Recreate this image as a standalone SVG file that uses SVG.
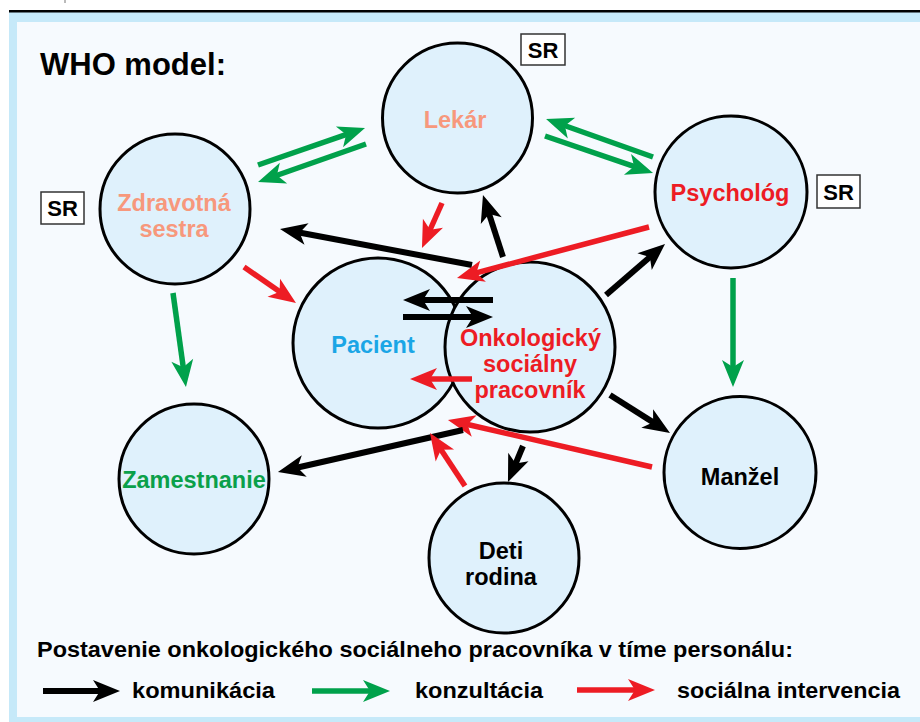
<svg xmlns="http://www.w3.org/2000/svg" width="920" height="722" viewBox="0 0 920 722">
<defs>
<style>
.node{fill:#dff1fc;stroke:#000;stroke-width:3}
.t{font-family:"Liberation Sans",Arial,sans-serif;font-weight:bold;font-size:23.5px;text-anchor:middle}
.sr{fill:#fff;stroke:#333;stroke-width:1.5}
.srt{font-family:"Liberation Sans",Arial,sans-serif;font-weight:bold;font-size:22px;text-anchor:middle;fill:#000}
.k{stroke:#000;stroke-width:6;fill:none;marker-end:url(#mk)}
.g{stroke:#00a14b;stroke-width:5.5;fill:none;marker-end:url(#mg)}
.r{stroke:#ed1c24;stroke-width:5.5;fill:none;marker-end:url(#mr)}
.leg{font-family:"Liberation Sans",Arial,sans-serif;font-weight:bold;font-size:22px;fill:#000}
</style>
<marker id="mk" viewBox="-10 -12 30 24" markerWidth="30" markerHeight="24" refX="0" refY="0" orient="auto" markerUnits="userSpaceOnUse" overflow="visible"><path d="M18,0 L-9,-11 L-2,0 L-9,11 Z" fill="#000"/></marker>
<marker id="mg" viewBox="-10 -12 30 24" markerWidth="30" markerHeight="24" refX="0" refY="0" orient="auto" markerUnits="userSpaceOnUse" overflow="visible"><path d="M18,0 L-9,-11 L-2,0 L-9,11 Z" fill="#00a14b"/></marker>
<marker id="mr" viewBox="-10 -12 30 24" markerWidth="30" markerHeight="24" refX="0" refY="0" orient="auto" markerUnits="userSpaceOnUse" overflow="visible"><path d="M18,0 L-9,-11 L-2,0 L-9,11 Z" fill="#ed1c24"/></marker>
</defs>
<rect x="0" y="0" width="920" height="722" fill="#fff"/>
<line x1="65" y1="0" x2="65" y2="3" stroke="#777" stroke-width="1"/>
<rect x="9" y="12" width="911" height="710" fill="#c6e9f9"/>
<rect x="9" y="10" width="911" height="2.5" fill="#000"/>
<rect x="17" y="22" width="903" height="695" fill="#f6fafe"/>
<text x="40" y="75" font-family="Liberation Sans,Arial,sans-serif" font-weight="bold" font-size="31" fill="#000">WHO model:</text>

<g id="lekar">
<circle class="node" cx="457.5" cy="118" r="75"/>
<text class="t" x="455" y="128" fill="#f7987c">Lekár</text>
<rect class="sr" x="521" y="34" width="44" height="31"/>
<text class="srt" x="543" y="58">SR</text>
</g>
<g id="zdravotna">
<circle class="node" cx="175" cy="209" r="75"/>
<text class="t" x="174" y="211" fill="#f7987c">Zdravotná</text>
<text class="t" x="174" y="237" fill="#f7987c">sestra</text>
<rect class="sr" x="41" y="192" width="43" height="32"/>
<text class="srt" x="62.5" y="216">SR</text>
</g>
<g id="psycholog">
<circle class="node" cx="731" cy="192" r="76"/>
<text class="t" x="730" y="201" fill="#ed1c24">Psychológ</text>
<rect class="sr" x="817" y="175" width="43" height="33"/>
<text class="srt" x="838.5" y="200">SR</text>
</g>
<g id="pacient">
<circle class="node" cx="378" cy="343" r="85"/>
<text class="t" x="373" y="353" fill="#1aa6e6">Pacient</text>
</g>
<g id="onko">
<circle class="node" cx="530" cy="347" r="85"/>
<text class="t" x="530.5" y="346" fill="#ed1c24">Onkologický</text>
<text class="t" x="530" y="372" fill="#ed1c24">sociálny</text>
<text class="t" x="530" y="398" fill="#ed1c24">pracovník</text>
</g>
<g id="zamestnanie">
<circle class="node" cx="194" cy="479" r="75"/>
<text class="t" x="194" y="488" fill="#0aa04a" font-size="22.5">Zamestnanie</text>
</g>
<g id="manzel">
<circle class="node" cx="740" cy="472.5" r="76"/>
<text class="t" x="740" y="485" fill="#000">Manžel</text>
</g>
<g id="deti">
<circle class="node" cx="504" cy="558" r="75"/>
<text class="t" x="501" y="559" fill="#000">Deti</text>
<text class="t" x="501" y="585" fill="#000">rodina</text>
</g>

<g id="connectors">
<line class="g" x1="258" y1="165" x2="348" y2="133.9"/>
<line class="g" x1="366" y1="144" x2="275" y2="176"/>
<line class="g" x1="653" y1="157" x2="563" y2="125"/>
<line class="g" x1="545" y1="136" x2="636" y2="167.2"/>
<line class="r" x1="442" y1="203" x2="429.3" y2="231.5"/>
<line class="k" x1="472" y1="265" x2="297.7" y2="232.3"/>
<line class="k" x1="503" y1="257" x2="488.5" y2="212.1"/>
<line class="r" x1="649" y1="227" x2="474.4" y2="273.4"/>
<line class="k" x1="606" y1="295" x2="651.4" y2="255.8"/>
<line class="r" x1="244" y1="267" x2="281.2" y2="292.8"/>
<line class="g" x1="173" y1="293" x2="183.5" y2="369.2"/>
<line class="g" x1="733" y1="278" x2="733" y2="369"/>
<line class="k" x1="493" y1="300" x2="421" y2="300"/>
<line class="k" x1="403" y1="317" x2="475" y2="317"/>
<line class="r" x1="472" y1="379" x2="428" y2="379"/>
<line class="k" x1="610" y1="395" x2="654.8" y2="423.4"/>
<line class="r" x1="652" y1="467" x2="465.5" y2="424"/>
<line class="k" x1="463" y1="430" x2="295.5" y2="468"/>
<line class="r" x1="465" y1="486" x2="439.9" y2="448"/>
<line class="k" x1="523" y1="446" x2="514.9" y2="465.4"/>
</g>

<g id="legend">
<text class="leg" x="37" y="657" textLength="756" lengthAdjust="spacingAndGlyphs">Postavenie onkologického sociálneho pracovníka v tíme personálu:</text>
<line class="k" x1="43" y1="691" x2="102" y2="691"/>
<text class="leg" x="132" y="698" textLength="143" lengthAdjust="spacingAndGlyphs">komunikácia</text>
<line class="g" x1="312" y1="691" x2="372" y2="691"/>
<text class="leg" x="415" y="698" textLength="128" lengthAdjust="spacingAndGlyphs">konzultácia</text>
<line class="r" x1="577" y1="690" x2="637" y2="690"/>
<text class="leg" x="677" y="698" textLength="223" lengthAdjust="spacingAndGlyphs">sociálna intervencia</text>
</g>
</svg>
